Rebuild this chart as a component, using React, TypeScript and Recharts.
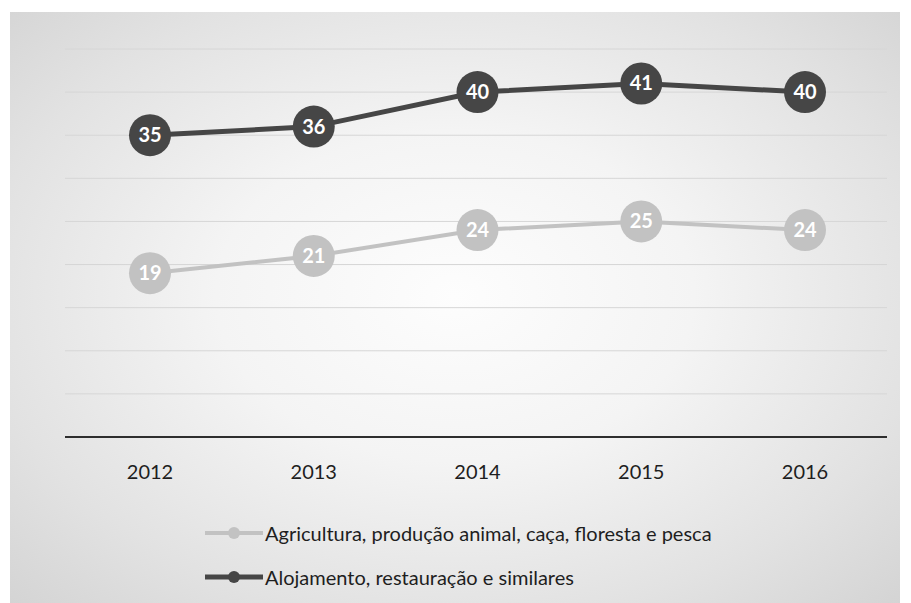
import React from 'react';
import { LineChart, Line, XAxis, YAxis, CartesianGrid } from 'recharts';

const years = ['2012', '2013', '2014', '2015', '2016'];
const agricultura = [19, 21, 24, 25, 24];
const alojamento = [35, 36, 40, 41, 40];
const seriesNames = [
  'Agricultura, produção animal, caça, floresta e pesca',
  'Alojamento, restauração e similares',
];

const data = years.map((year, i) => ({
  year,
  agricultura: agricultura[i],
  alojamento: alojamento[i],
}));

const FONT = 'Lato, "Open Sans", sans-serif';
const LIGHT = '#c2c2c2';
const DARK = '#464646';

const makeDot = (color: string) => (props: any) => {
  const { cx, cy, value, index } = props;
  if (cx == null || cy == null) return null;
  return (
    <g key={`dot-${color}-${index}`}>
      <circle cx={cx} cy={cy} r={21} fill={color} />
      <text
        x={cx}
        y={cy}
        dy={7}
        textAnchor="middle"
        fill="#ffffff"
        fontFamily={FONT}
        fontWeight={700}
        fontSize={20}
      >
        {value}
      </text>
    </g>
  );
};

// legend drawn as plain html under the chart
const ChartLegend: React.FC = () => {
  const rows = [
    { name: seriesNames[0], color: LIGHT, w: 4 },
    { name: seriesNames[1], color: DARK, w: 5 },
  ];
  return (
    <div style={{ position: 'absolute', left: 205, top: 511, fontFamily: FONT, fontSize: 20, color: '#1e1e1e' }}>
      {rows.map((r, i) => (
        <div key={i} style={{ display: 'flex', alignItems: 'center', height: 44 }}>
          <svg width={58} height={20} style={{ marginRight: 2 }}>
            <line x1={0} y1={10} x2={58} y2={10} stroke={r.color} strokeWidth={r.w} />
            <circle cx={29} cy={10} r={6} fill={r.color} />
          </svg>
          <span>{r.name}</span>
        </div>
      ))}
    </div>
  );
};

const App: React.FC = () => {
  return (
    <div style={{ position: 'absolute', left: 0, top: 0, width: 911, height: 603, background: '#ffffff', overflow: 'hidden' }}>
      <div
        style={{
          position: 'absolute',
          left: 10,
          top: 12,
          width: 890,
          height: 591,
          background: 'radial-gradient(ellipse at 50% 48%, #fdfdfd 0%, #f4f4f4 38%, #e2e2e2 75%, #d4d4d4 100%)',
        }}
      />
      <div style={{ position: 'absolute', left: 0, top: 0 }}>
        <LineChart
          width={911}
          height={603}
          data={data}
          margin={{ top: 49, right: 24, left: 65, bottom: 136 }}
        >
          <CartesianGrid vertical={false} stroke="#d6d6d6" strokeWidth={1} />
          <XAxis
            dataKey="year"
            height={30}
            padding={{ left: 85, right: 82 }}
            axisLine={{ stroke: '#2e2e2e', strokeWidth: 2 }}
            tickLine={false}
            tickMargin={22}
            tick={{ fill: '#1e1e1e', fontSize: 20, fontFamily: FONT }}
          />
          <YAxis hide domain={[0, 45]} ticks={[0, 5, 10, 15, 20, 25, 30, 35, 40, 45]} />
          <Line
            type="linear"
            dataKey="agricultura"
            name={seriesNames[0]}
            stroke={LIGHT}
            strokeWidth={4}
            dot={makeDot(LIGHT)}
            activeDot={false}
            isAnimationActive={false}
          />
          <Line
            type="linear"
            dataKey="alojamento"
            name={seriesNames[1]}
            stroke={DARK}
            strokeWidth={5}
            dot={makeDot(DARK)}
            activeDot={false}
            isAnimationActive={false}
          />
        </LineChart>
      </div>
      <ChartLegend />
    </div>
  );
};

export default App;
